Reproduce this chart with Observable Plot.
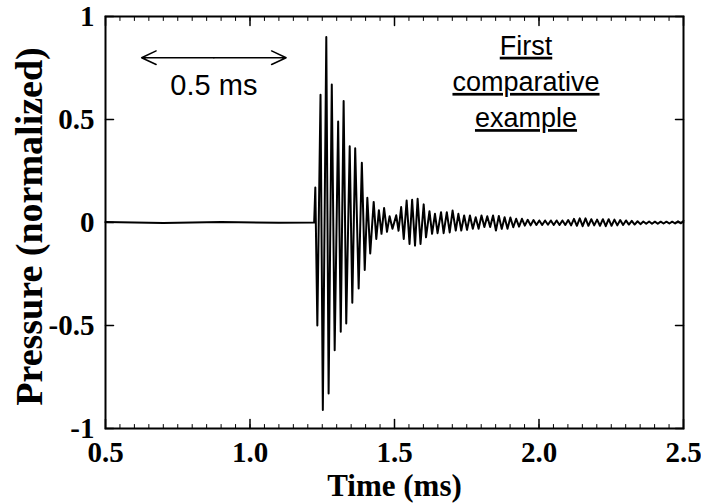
<!DOCTYPE html>
<html><head><meta charset="utf-8">
<script src="https://cdn.jsdelivr.net/npm/d3@7"></script>
<script src="https://cdn.jsdelivr.net/npm/@observablehq/plot@0.6"></script>
<style>body{margin:0;background:#fff}</style>
</head><body><div id="chart"></div>
<script>
// Time (ms) of waveform extrema
const time = [
0.500,0.700,0.900,1.100,1.222,
1.226,1.233,1.244,1.252,1.264,1.272,1.283,1.293,1.305,1.314,1.324,1.333,1.345,1.354,1.364,1.376,1.387,1.397,1.406,1.416,1.428,1.437,1.446,1.455,1.464,1.474,1.483,1.493,
1.506,1.514,1.523,1.532,1.542,1.552,1.561,1.571,1.580,1.590,1.601,1.609,1.621,1.630,1.640,1.649,1.661,1.670,1.681,1.691,1.701,1.712,
1.721,1.731,1.741,1.751,1.761,1.771,1.781,1.791,1.801,1.811,1.821,1.831,1.841,1.851,1.861,1.871,1.881,1.891,1.901,1.911,1.921,1.931,1.941,1.951,1.961,1.971,1.981,1.991,
2.001,2.011,2.021,2.031,2.041,2.051,2.061,2.071,2.081,2.091,2.101,2.111,2.121,2.131,2.141,2.151,2.161,2.171,2.181,2.191,2.201,2.211,2.221,2.231,2.241,2.251,2.261,2.271,2.281,2.291,
2.301,2.311,2.321,2.331,2.341,2.351,2.361,2.371,2.381,2.391,2.401,2.411,2.421,2.431,2.441,2.451,2.461,2.471,2.481,2.491,2.500
];
// Normalized pressure at those times
const pressure = [
0.002,-0.002,0.002,-0.001,0.000,
0.17,-0.50,0.62,-0.91,0.90,-0.83,0.67,-0.62,0.49,-0.53,0.59,-0.49,0.37,-0.39,0.36,-0.32,0.29,-0.23,0.12,-0.15,0.10,-0.08,0.06,-0.055,0.07,-0.045,0.03,-0.03,
0.035,-0.04,0.075,-0.08,0.107,-0.104,0.11,-0.112,0.115,-0.104,0.088,-0.072,0.055,-0.055,0.042,-0.052,0.05,-0.052,0.05,-0.048,0.058,-0.039,
0.042,-0.039,0.034,-0.036,0.034,-0.030,0.026,-0.030,0.034,-0.022,0.030,-0.022,0.034,-0.039,0.032,-0.031,0.026,-0.030,0.024,-0.023,0.018,-0.020,0.018,-0.015,0.013,-0.014,0.012,-0.012,
0.010,-0.012,0.010,-0.011,0.010,-0.012,0.010,-0.012,0.010,-0.012,0.012,-0.014,0.018,-0.016,0.020,-0.018,0.020,-0.016,0.016,-0.014,0.014,-0.016,0.016,-0.018,0.016,-0.016,0.014,-0.014,0.012,-0.012,
0.010,-0.010,0.008,-0.010,0.006,-0.008,0.005,-0.006,0.005,-0.006,0.004,-0.006,0.004,-0.005,0.004,-0.005,0.004,-0.005,0.006,-0.004,0.008
];
const xTicks = [0.5, 1.0, 1.5, 2.0, 2.5];
const xTickLabels = ["0.5", "1.0", "1.5", "2.0", "2.5"];
const xMinorTicks = d3.range(0.5, 2.5001, 0.05);
const yTicks = [-1, -0.5, 0, 0.5, 1];
const yTickLabels = ["-1", "-0.5", "0", "0.5", "1"];
const xTitle = "Time (ms)";
const yTitle = "Pressure (normalized)";
const scaleText = "0.5 ms";
const noteText = "First\ncomparative\nexample";

// annotation placement (data units)
const scaleBar = {t1: 0.625, t2: 1.125, p: 0.80, labelP: 0.665};
const note = {t: 1.955, p: 0.695};

const wave = time.map((t, i) => ({t, p: pressure[i]}));
const tickLine = {draw(ctx, l) { ctx.moveTo(0, 0); ctx.lineTo(0, -l); }};
const serif = "'Liberation Serif', 'Times New Roman', serif";
const sans = "'Liberation Sans', Arial, sans-serif";
const mid = (scaleBar.t1 + scaleBar.t2) / 2;

const chart = Plot.plot({
  width: 701, height: 503,
  marginLeft: 105, marginRight: 18, marginTop: 16, marginBottom: 75,
  x: {domain: [0.5, 2.5]},
  y: {domain: [-1, 1]},
  style: {fontFamily: serif, background: "white", color: "black"},
  marks: [
    Plot.line(wave, {x: "t", y: "p", stroke: "black", strokeWidth: 2}),
    // inward ticks on four sides
    Plot.vector(xMinorTicks, {x: d => d, frameAnchor: "bottom", length: 4, rotate: 0, anchor: "start", shape: tickLine, stroke: "black", strokeWidth: 1}),
    Plot.vector(xMinorTicks, {x: d => d, frameAnchor: "top", length: 4, rotate: 180, anchor: "start", shape: tickLine, stroke: "black", strokeWidth: 1}),
    Plot.vector(xTicks, {x: d => d, frameAnchor: "bottom", length: 9, rotate: 0, anchor: "start", shape: tickLine, stroke: "black", strokeWidth: 1.5}),
    Plot.vector(xTicks, {x: d => d, frameAnchor: "top", length: 9, rotate: 180, anchor: "start", shape: tickLine, stroke: "black", strokeWidth: 1.5}),
    Plot.vector(yTicks, {y: d => d, frameAnchor: "left", length: 8, rotate: 90, anchor: "start", shape: tickLine, stroke: "black", strokeWidth: 1.5}),
    Plot.vector(yTicks, {y: d => d, frameAnchor: "right", length: 8, rotate: -90, anchor: "start", shape: tickLine, stroke: "black", strokeWidth: 1.5}),
    Plot.frame({stroke: "black", strokeWidth: 2}),
    // tick labels
    Plot.axisX(xTicks, {anchor: "bottom", tickSize: 0, tickPadding: 13, tickFormat: d => xTickLabels[xTicks.indexOf(d)], fontSize: 29, fontWeight: "bold", label: null}),
    Plot.axisY(yTicks, {anchor: "left", tickSize: 0, tickPadding: 11, tickFormat: d => yTickLabels[yTicks.indexOf(d)], fontSize: 29, fontWeight: "bold", label: null}),
    // axis titles
    Plot.text([xTitle], {frameAnchor: "bottom", dy: 58, lineAnchor: "middle", text: d => d, fontSize: 31, fontWeight: "bold", fontFamily: serif}),
    Plot.text([yTitle], {frameAnchor: "left", dx: -76, dy: 4, rotate: -90, textAnchor: "middle", lineAnchor: "middle", text: d => d, fontSize: 38, fontWeight: "bold", fontFamily: serif}),
    // scale bar
    Plot.arrow([scaleBar.t1, scaleBar.t2], {x1: () => mid, x2: d => d, y1: () => scaleBar.p, y2: () => scaleBar.p, stroke: "black", strokeWidth: 1.5, headLength: 16, headAngle: 50, bend: 0}),
    Plot.text([scaleText], {x: () => mid, y: () => scaleBar.labelP, text: d => d, fontSize: 29, fontFamily: sans}),
    Plot.text([noteText], {x: () => note.t, y: () => note.p, text: d => d, fontSize: 27, fontFamily: sans, lineHeight: 1.34})
  ]
});
d3.select(chart).selectAll("text").filter(function() { return this.textContent.startsWith("First"); })
  .style("text-decoration", "underline");
document.getElementById("chart").appendChild(chart);
</script>
</body></html>
